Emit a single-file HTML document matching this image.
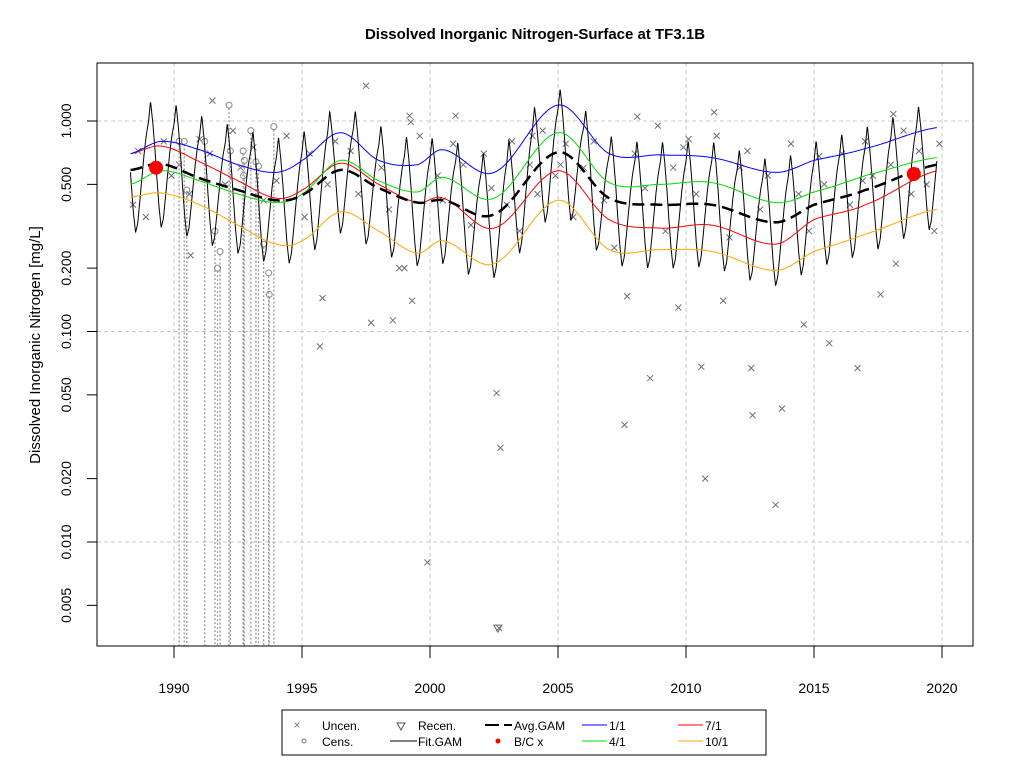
<!DOCTYPE html>
<html><head><meta charset="utf-8"><style>
html,body{margin:0;padding:0;background:#fff;}
svg{display:block;font-family:"Liberation Sans",Arial,sans-serif;}
</style></head><body>
<svg id="chart" width="1024" height="768" viewBox="0 0 1024 768" xmlns="http://www.w3.org/2000/svg">
<rect width="1024" height="768" fill="#fff"/>
<text x="535" y="39" text-anchor="middle" font-size="15" font-weight="bold">Dissolved Inorganic Nitrogen-Surface at TF3.1B</text>
<text transform="translate(40,345) rotate(-90)" text-anchor="middle" font-size="15">Dissolved Inorganic Nitrogen [mg/L]</text>
<g id="grid"></g>
<g id="marks"></g>
<rect x="97" y="63" width="876" height="583" fill="none" stroke="#000" stroke-width="1"/>
<g id="axes"></g>
<g>
<rect x="282" y="710" width="484" height="45" fill="#fff" stroke="#000"/>
<g><text x="297" y="729" font-size="12" fill="#777" text-anchor="middle">×</text><text x="322" y="730" font-size="12">Uncen.</text></g>
<g><circle cx="304" cy="741" r="2" fill="none" stroke="#777"/><text x="322" y="746" font-size="12">Cens.</text></g>
<g><path d="M397,723 L405,723 L401,730 Z" fill="none" stroke="#555"/><text x="418" y="730" font-size="12">Recen.</text></g>
<g><line x1="390" y1="741" x2="417" y2="741" stroke="#000"/><text x="418" y="746" font-size="12">Fit.GAM</text></g>
<g><line x1="485" y1="725" x2="512" y2="725" stroke="#000" stroke-width="2" stroke-dasharray="14,5"/><text x="514" y="730" font-size="12">Avg.GAM</text></g>
<g><circle cx="498" cy="741" r="2.5" fill="red"/><text x="514" y="746" font-size="12">B/C x</text></g>
<g><line x1="582" y1="725" x2="607" y2="725" stroke="blue"/><text x="609" y="730" font-size="12">1/1</text></g>
<g><line x1="582" y1="741" x2="607" y2="741" stroke="#0d0"/><text x="609" y="746" font-size="12">4/1</text></g>
<g><line x1="678" y1="725" x2="703" y2="725" stroke="red"/><text x="705" y="730" font-size="12">7/1</text></g>
<g><line x1="678" y1="741" x2="703" y2="741" stroke="orange"/><text x="705" y="746" font-size="12">10/1</text></g>
</g>
</svg>
<script>
const knotYears=[1988.3,1989.5,1991,1992.5,1994,1995,1996.5,1998,1999.5,2000.5,2002.5,2005,2007,2009,2011,2013.5,2015,2017,2019.8];
const jan1=[0.70,0.80,0.73,0.62,0.57,0.65,0.88,0.65,0.62,0.73,0.57,1.19,0.70,0.69,0.67,0.57,0.65,0.74,0.93];
const apr1=[0.50,0.58,0.52,0.45,0.41,0.45,0.65,0.52,0.46,0.54,0.43,0.88,0.51,0.50,0.51,0.41,0.46,0.55,0.67];
const jul1=[0.70,0.76,0.64,0.52,0.43,0.47,0.63,0.50,0.41,0.43,0.31,0.58,0.34,0.31,0.32,0.26,0.34,0.40,0.58];
const oct1=[0.435,0.455,0.40,0.32,0.26,0.27,0.37,0.30,0.236,0.27,0.21,0.42,0.245,0.245,0.24,0.195,0.24,0.29,0.38];
const avgGam=[0.585,0.625,0.535,0.47,0.42,0.445,0.585,0.48,0.41,0.42,0.36,0.71,0.43,0.40,0.40,0.33,0.40,0.47,0.62];
const seasonFactor=[1.6,2.0,1.6,1.2,0.85,0.62,0.5,0.55,0.7,0.9,1.15,1.4];
const xTicks=[1990,1995,2000,2005,2010,2015,2020];
const yTicks=[1,0.5,0.2,0.1,0.05,0.02,0.01,0.005];
const yTickLabels=["1.000","0.500","0.200","0.100","0.050","0.020","0.010","0.005"];
const yGrid=[1,0.1,0.01];
const uncenX=[1999.9,2002.7,2002.6,2002.75,1995.7,1995.8,1997.7,1998.55,1999.3,1998.8,2007.6,2007.7,2008.6,2010.75,2010.6,2011.45,2012.55,2012.6,2013.5,2013.75,2014.6,2015.6,2016.7,2017.6,2018.2,2009.7,1990.65,1997.5,1991.5,1999.2,1999.25,2011.1,2018.1,2008.1,2001,
1988.4,1988.6,1988.9,1989.6,1989.9,1990.2,1990.6,1991.0,1991.4,1992.0,1992.3,1992.6,1993.1,1993.5,1994.0,1994.4,1995.1,1995.3,1996.0,1996.3,1996.9,1997.2,1998.1,1998.4,1999.0,1999.6,2000.3,2000.5,2000.9,2001.3,2001.6,2002.1,2002.4,2003.2,2003.5,2003.9,2004.2,2004.4,2004.9,2005.3,2005.6,2006.0,2006.4,2006.8,2007.2,2008.0,2008.4,2008.9,2009.2,2009.5,2010.1,2010.4,2011.2,2011.7,2012.1,2012.4,2012.9,2013.2,2014.1,2014.4,2014.8,2015.2,2015.4,2016.1,2016.4,2017.0,2017.3,2018.0,2018.5,2018.8,2019.1,2019.4,2019.7,2019.9,2005.1,2004.0,2003.0,2009.9,2016.9];
const uncenY=[0.008,0.0039,0.051,0.028,0.085,0.144,0.11,0.113,0.14,0.2,0.036,0.147,0.06,0.02,0.068,0.14,0.067,0.04,0.015,0.043,0.108,0.088,0.067,0.15,0.21,0.13,0.23,1.47,1.25,1.06,0.99,1.1,1.08,1.05,1.06,
0.4,0.72,0.35,0.8,0.55,0.62,0.45,0.82,0.7,0.5,0.9,0.6,0.75,0.42,0.52,0.85,0.35,0.7,0.5,0.8,0.72,0.45,0.6,0.38,0.2,0.85,0.55,0.42,0.78,0.62,0.32,0.7,0.48,0.8,0.3,0.62,0.45,0.9,0.55,0.78,0.35,0.6,0.8,0.42,0.25,0.7,0.48,0.95,0.3,0.6,0.82,0.45,0.85,0.28,0.6,0.72,0.38,0.55,0.78,0.45,0.3,0.68,0.5,0.7,0.4,0.8,0.55,0.62,0.9,0.45,0.72,0.5,0.3,0.78,0.62,0.85,0.4,0.75,0.52];
const recenX=[2002.65];
const recenY=[0.0039];
const censX=[1992.15,1993.0,1993.9,1991.2,1990.5,1991.6,1991.8,1991.7,1993.7,1993.72,1993.5,1992.7,1992.75,1992.2,1993.2,1993.3,1992.72,1990.2,1990.4];
const censY=[1.19,0.9,0.94,0.8,0.47,0.3,0.24,0.2,0.19,0.15,0.26,0.72,0.65,0.72,0.64,0.61,0.55,0.8,0.8];
const bcX=[1989.3,2018.9];
const bcY=[0.6,0.56];

const NS="http://www.w3.org/2000/svg";
const X0=97,X1=973,Y0=63,Y1=646;
function xs(t){return 174+(t-1990)*25.6;}
function ys(v){return 121-Math.log10(v)*210.5;}
function mk(tag,attrs,parent){const e=document.createElementNS(NS,tag);for(const k in attrs)e.setAttribute(k,attrs[k]);parent.appendChild(e);return e;}
const grid=document.getElementById('grid'),marks=document.getElementById('marks'),axes=document.getElementById('axes');
xTicks.forEach(t=>{const l=mk('line',{x1:xs(t),x2:xs(t),y1:Y0,y2:Y1,stroke:'#c8c8c8','stroke-dasharray':'4,3'},grid);

});
yGrid.forEach(v=>{const l=mk('line',{x1:X0,x2:X1,y1:ys(v),y2:ys(v),stroke:'#c8c8c8','stroke-dasharray':'4,3'},grid);

});
function interp(arr,t){const n=knotYears.length;let i=0;while(i<n-2&&t>knotYears[i+1])i++;
const L=arr.map(v=>Math.log10(v));const p0=L[Math.max(i-1,0)],p1=L[i],p2=L[i+1],p3=L[Math.min(i+2,n-1)];
let u=(t-knotYears[i])/(knotYears[i+1]-knotYears[i]);u=Math.max(0,Math.min(1,u));
const u2=u*u,u3=u2*u;return 0.5*((2*p1)+(-p0+p2)*u+(2*p0-5*p1+4*p2-p3)*u2+(-p0+3*p1-3*p2+p3)*u3);}
function seasonal(frac){const m=frac*12;const i=Math.floor(m)%12,j=(i+1)%12,f=m-Math.floor(m);
return Math.log10(seasonFactor[i])*(1-f)+Math.log10(seasonFactor[j])*f;}
function curve(arr){let d='';for(let t=knotYears[0];t<=knotYears[knotYears.length-1]+1e-9;t+=0.05){const y=121-interp(arr,t)*210.5;d+=(d?'L':'M')+xs(t).toFixed(1)+','+y.toFixed(1);}return d;}
uncenX.forEach((t,i)=>{const x=xs(t),y=ys(uncenY[i]);const p=mk('path',{d:`M${x-3},${y-3}L${x+3},${y+3}M${x-3},${y+3}L${x+3},${y-3}`,stroke:'#6b7080','stroke-width':1,fill:'none'},marks);

});
censX.forEach((t,i)=>{const x=xs(t),y=ys(censY[i]);const l=mk('line',{x1:x,x2:x,y1:y+3,y2:Y1,stroke:'#999','stroke-width':1.3,'stroke-dasharray':'2,2'},marks);


const c=mk('circle',{cx:x,cy:y,r:3,fill:'none',stroke:'#888'},marks);

});
recenX.forEach((t,i)=>{const x=xs(t),y=ys(recenY[i]);const p=mk('path',{d:`M${x-4},${y-3}L${x+4},${y-3}L${x},${y+4}Z`,fill:'none',stroke:'#666'},marks);

});
{let d='';for(let t=knotYears[0];t<=knotYears[knotYears.length-1];t+=0.01){const lv=interp(avgGam,t)+seasonal(t-Math.floor(t));const y=121-lv*210.5;d+=(d?'L':'M')+xs(t).toFixed(1)+','+y.toFixed(1);}
const p=mk('path',{d:d,fill:'none',stroke:'#000','stroke-width':1},marks);

}
[[oct1,'orange','oct1-line'],[jul1,'red','jul1-line'],[apr1,'#0d0','apr1-line'],[jan1,'blue','jan1-line']].forEach(s=>{
const p=mk('path',{d:curve(s[0]),fill:'none',stroke:s[1],'stroke-width':1},marks);

});
{const p=mk('path',{d:curve(avgGam),fill:'none',stroke:'#000','stroke-width':2.5,'stroke-dasharray':'12,6'},marks);

}
bcX.forEach((t,i)=>{const c=mk('circle',{cx:xs(t),cy:ys(bcY[i]),r:7,fill:'red'},marks);

});
xTicks.forEach(t=>{mk('line',{x1:xs(t),x2:xs(t),y1:Y1,y2:Y1+12,stroke:'#000'},axes);
const tx=mk('text',{x:xs(t),y:693,'text-anchor':'middle','font-size':14},axes);tx.textContent=t;

});
yTicks.forEach((v,i)=>{const y=ys(v);mk('line',{x1:X0-10,x2:X0,y1:y,y2:y,stroke:'#000'},axes);
const tx=mk('text',{transform:`translate(71,${y}) rotate(-90)`,'text-anchor':'middle','font-size':14},axes);tx.textContent=yTickLabels[i];

});
</script>
</body></html>
